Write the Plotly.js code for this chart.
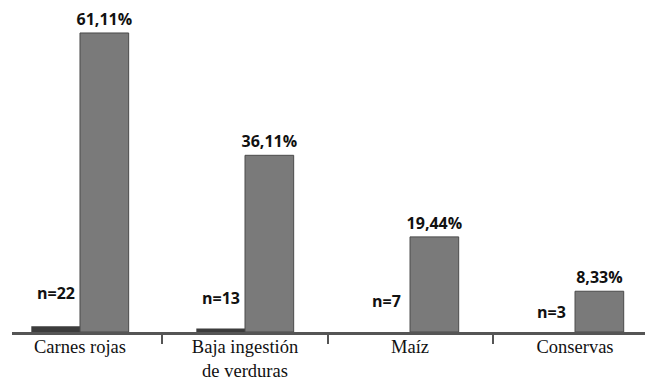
<!DOCTYPE html>
<html>
<head>
<meta charset="utf-8">
<script src="https://cdn.plot.ly/plotly-3.0.1.min.js"></script>
<style>html,body{margin:0;padding:0;background:#fff;}#chart{width:649px;height:384px;}</style>
</head>
<body>
<div id="chart"></div>
<script>
const categories = ["Carnes rojas", "Baja ingestión<br>de verduras", "Maíz", "Conservas"];
const nValues = [22, 13, 7, 3];
const nBarHeights = [1.2, 0.7, 0, 0];
const percentValues = [61.11, 36.11, 19.44, 8.33];
const nLabelY = [7.9, 6.9, 6.3, 4.1];

const traceN = {
  type: 'bar', x: categories, y: nBarHeights,
  marker: {color: '#3c3c3c', line: {width: 0}},
  hoverinfo: 'none', cliponaxis: false
};
const traceP = {
  type: 'bar', x: categories, y: percentValues,
  marker: {color: '#7a7a7a', line: {color: '#4a4a4a', width: 1}},
  texttemplate: '%{y:.2f}%', textposition: 'outside', constraintext: 'none',
  textfont: {family: 'Open Sans', size: 16, color: '#111', weight: 'bold'},
  cliponaxis: false, hoverinfo: 'none'
};

const annotations = categories.map((c, i) => ({
  x: c, y: nLabelY[i], xref: 'x', yref: 'y', xshift: -24,
  text: '<b>n=' + nValues[i] + '</b>', showarrow: false,
  font: {family: 'Open Sans', size: 16, color: '#111'},
  xanchor: 'center', yanchor: 'middle'
}));

const layout = {
  width: 649, height: 384,
  margin: {l: 12, r: 4, t: 0, b: 52},
  paper_bgcolor: '#fff', plot_bgcolor: '#fff',
  separators: ',.',
  showlegend: false,
  barmode: 'group', bargap: 0.41, bargroupgap: 0,
  xaxis: {
    type: 'category', range: [-0.412, 3.424],
    showline: true, linecolor: '#555', linewidth: 3,
    ticks: 'outside', tickson: 'boundaries', ticklen: 9, tickwidth: 2, tickcolor: '#555',
    ticklabelstandoff: -4,
    tickfont: {family: 'Liberation Serif', size: 18.5, color: '#111'},
    showgrid: false, zeroline: false, fixedrange: true
  },
  yaxis: {
    range: [0, 67.85], visible: false, showgrid: false, zeroline: false, fixedrange: true
  },
  annotations: annotations,
  shapes: [{
    type: 'line', xref: 'paper', x0: 1, x1: 1,
    yref: 'y', ysizemode: 'pixel', yanchor: 0, y0: 0, y1: -11,
    line: {color: '#555', width: 2}
  }]
};

Plotly.newPlot('chart', [traceN, traceP], layout, {displayModeBar: false, staticPlot: true});
</script>
</body>
</html>
